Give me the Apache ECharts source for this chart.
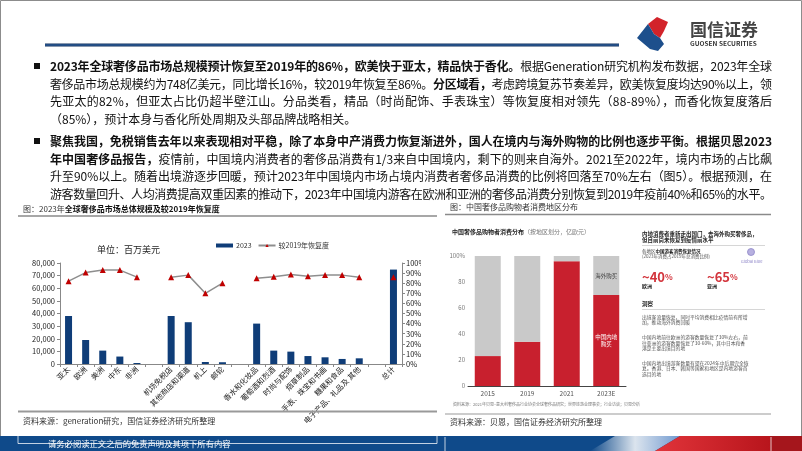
<!DOCTYPE html>
<html><head><meta charset="utf-8">
<script src="https://cdn.jsdelivr.net/npm/echarts@6/dist/echarts.min.js"></script>
<style>
html,body{margin:0;padding:0;background:#fff;}
#wrap{position:relative;width:802px;height:451px;overflow:hidden;}
#chart{position:absolute;left:0;top:0;width:802px;height:451px;}
.ln{position:absolute;left:50px;width:722px;height:16px;line-height:16px;font-size:12px;font-family:"Noto Sans CJK SC","Noto Sans",sans-serif;color:#111;white-space:nowrap;}
.ln b{font-weight:700;}
</style></head>
<body>
<div id="wrap">
<div id="chart"></div>
<div class="ln j" style="top:58px"><span><b>2023年全球奢侈品市场总规模预计恢复至2019年的86%，欧美快于亚太，精品快于香化。</b>根据Generation研究机构发布数据，2023年全球</span></div>
<div class="ln j" style="top:75.5px"><span>奢侈品市场总规模约为748亿美元，同比增长16%，较2019年恢复至86%。<b>分区域看，</b>考虑跨境复苏节奏差异，欧美恢复度均达90%以上，领</span></div>
<div class="ln j" style="top:93px"><span>先亚太的82%，但亚太占比仍超半壁江山。分品类看，精品（时尚配饰、手表珠宝）等恢复度相对领先（88-89%），而香化恢复度落后</span></div>
<div class="ln" style="top:110.5px"><span>（85%），预计本身与香化所处周期及头部品牌战略相关。</span></div>
<div class="ln j" style="top:133px"><span><b>聚焦我国，免税销售去年以来表现相对平稳，除了本身中产消费力恢复渐进外，国人在境内与海外购物的比例也逐步平衡。根据贝恩2023</b></span></div>
<div class="ln j" style="top:150.5px"><span><b>年中国奢侈品报告，</b>疫情前，中国境内消费者的奢侈品消费有1/3来自中国境内，剩下的则来自海外。2021至2022年，境内市场的占比飙</span></div>
<div class="ln j" style="top:168px"><span>升至90%以上。随着出境游逐步回暖，预计2023年中国境内市场占境内消费者奢侈品消费的比例将回落至70%左右（图5）。根据预测，在</span></div>
<div class="ln j" style="top:185.5px"><span>游客数量回升、人均消费提高双重因素的推动下，2023年中国境内游客在欧洲和亚洲的奢侈品消费分别恢复到2019年疫前40%和65%的水平。</span></div>
</div>
<script>
// ---------- data ----------
const categories = ['亚太','欧洲','美洲','中东','非洲','','机场免税店','其他商店和渠道','机上','邮轮',' ','香水和化妆品','葡萄酒和烈酒','时尚与配饰','烟草制品','手表、珠宝和书画','糖果和食品','电子产品、礼品及 其他','  ','总计'];
const market2023 = [38000,19000,10600,5900,800,null,38000,33100,1600,1400,null,32000,10600,9800,6300,5300,4000,4500,null,74800];
const recovery = [82,90.5,93,93,86,null,86,88,70,80,null,85,86.5,88.5,87,88,88,86,null,86];
const years = ['2015','2019','2021','2023E'];
const totals = [757,927,638,633];
const domesticShare = [23,34,96,70];
const overseasShare = [77,66,4,30];
const capLine = [100,100,100,100];

// justify paragraph lines
document.querySelectorAll('.ln.j').forEach(el=>{
  const sp = el.firstElementChild;
  const w = sp.getBoundingClientRect().width;
  const n = Array.from(sp.textContent).length;
  sp.style.letterSpacing = ((722 - w) / (n - 1)) + 'px';
});

const F = '"Noto Sans CJK SC","Noto Sans",sans-serif';
const chart = echarts.init(document.getElementById('chart'), null, {renderer:'canvas'});

function T(x,y,text,size,color,extra){
  return Object.assign({type:'text', x:x, y:y, z:50, style:Object.assign({text:text, font: (extra&&extra.bold?'bold ':'') + size+'px '+F, fill:color, textVerticalAlign:'middle'}, extra&&extra.style||{})}, extra&&extra.el||{});
}
const panelTxt = '#555';
const graphics = [
  {type:'rect', z:1, shape:{x:0.5,y:0.5,width:801,height:450}, style:{fill:'none', stroke:'#8c8c8c', lineWidth:1}},
  // header line
  {type:'rect', z:5, shape:{x:45,y:43.5,width:574,height:3}, style:{fill:new echarts.graphic.LinearGradient(0,0,0,1,[{offset:0,color:'#14325e'},{offset:0.5,color:'#2a5a97'},{offset:1,color:'#14325e'}])}},
  // logo
  {type:'polygon', z:5, shape:{points:[[648,24],[657,17],[668,22],[664,31],[660,38],[654,34],[651,29]]}, style:{fill:'#d2232a'}},
  {type:'polygon', z:5, shape:{points:[[637,38],[648,24],[651,29],[654,34],[660,38],[664,44],[658,51],[650,49]]}, style:{fill:'#1d4f8c'}},
  T(690,30,'国信证券',17,'#444',{bold:true}),
  T(690,44,'GUOSEN SECURITIES',6.5,'#333',{bold:true}),
  // bullets
  {type:'rect', z:5, shape:{x:34,y:63,width:6,height:6}, style:{fill:'#111'}},
  {type:'rect', z:5, shape:{x:34,y:138,width:6,height:6}, style:{fill:'#111'}},
  // left title
  {type:'text', x:23, y:209, z:50, style:{text:'{n|图：2023年}{b|全球奢侈品市场总体规模及较2019年恢复度}', textVerticalAlign:'middle', rich:{n:{font:'8px '+F, fill:'#333'}, b:{font:'bold 8px '+F, fill:'#111'}}}},
  {type:'line', z:5, shape:{x1:18,y1:216,x2:437,y2:216}, style:{stroke:'#8a8a8a', lineWidth:1.5}},
  T(97,250,'单位：百万美元',9,'#222'),
  // right title
  T(450,207,'图：中国奢侈品购物者消费地区分布',8,'#333'),
  {type:'line', z:5, shape:{x1:445,y1:214.5,x2:771,y2:214.5}, style:{stroke:'#8a8a8a', lineWidth:1.5}},
  // white edge of the embedded picture (clips the right-axis labels)
  {type:'rect', z:100, shape:{x:421,y:250,width:22,height:125}, style:{fill:'#fff'}},
  // right chart embedded title
  {type:'text', x:452, y:232, z:50, style:{text:'{b|中国奢侈品购物者消费分布}{n|（按地区划分，亿欧元）}', textVerticalAlign:'middle', rich:{b:{font:'bold 6px '+F, fill:'#222'}, n:{font:'6px '+F, fill:'#777'}}}},
  T(453,404,'资料来源：2021年贝恩–意大利奢侈品行业协会全球奢侈品研究；世界旅游业理事会；行业访谈；贝恩分析',4,'#777'),
  // right panel
  T(642,234,'内地消费者重新走出国门，去海外购买奢侈品，',5.5,'#222',{bold:true}),
  T(642,240,'但目前尚未恢复到疫情前水平',5.5,'#222',{bold:true}),
  {type:'line', z:5, shape:{x1:642,y1:245.5,x2:765,y2:245.5}, style:{stroke:'#ccc', lineWidth:0.8}},
  {type:'text', x:642, y:251, z:50, style:{text:'{n|各地区}{b|中国游客消费恢复情况}', textVerticalAlign:'middle', rich:{n:{font:'4.5px '+F, fill:'#444'}, b:{font:'bold 4.5px '+F, fill:'#222'}}}},
  T(642,256,'(2023年消费占2019年总消费比例)',4.5,'#555'),
  {type:'circle', z:5, shape:{cx:751,cy:252,r:3.5}, style:{fill:'#b7b0e0', stroke:'#8e86c8', lineWidth:0.8}},
  T(741,261,'Global Blue',4,'#8e86c8'),
  {type:'text', x:642, y:277, z:50, style:{text:'{a|~40}{b|%}', textVerticalAlign:'middle', rich:{a:{font:'bold 13px '+F, fill:'#d3343c'}, b:{font:'bold 8px '+F, fill:'#d3343c'}}}},
  {type:'text', x:707, y:277, z:50, style:{text:'{a|~65}{b|%}', textVerticalAlign:'middle', rich:{a:{font:'bold 13px '+F, fill:'#d3343c'}, b:{font:'bold 8px '+F, fill:'#d3343c'}}}},
  T(642,286,'欧洲',5,'#222',{bold:true}),
  T(707,286,'亚洲',5,'#222',{bold:true}),
  T(642,304,'洞察',5.5,'#222',{bold:true}),
  {type:'line', z:5, shape:{x1:642,y1:309.5,x2:765,y2:309.5}, style:{stroke:'#ccc', lineWidth:0.8}},
  T(642,317,'出境客流量恢复，同时平均消费相比疫情前有所增',4.8,panelTxt),
  T(642,322.5,'加，推动海外消费回暖',4.8,panelTxt),
  T(642,337.5,'中国内地前往欧洲的游客数量恢复了30%左右，前',4.8,panelTxt),
  T(642,343,'往亚洲的游客数量恢复了30-60%，其中日本和香',4.8,panelTxt),
  T(642,348.5,'港是主要出境目的地',4.8,panelTxt),
  T(642,363,'中国内地出境游客数量有望在2024年中后期完全恢',4.8,panelTxt),
  T(642,368.5,'复。香港、日本、韩国等国家和地区是内地游客首',4.8,panelTxt),
  T(642,374,'选目的地',4.8,panelTxt),
  // bottom source lines
  {type:'line', z:5, shape:{x1:18,y1:411.5,x2:437,y2:411.5}, style:{stroke:'#999', lineWidth:2}},
  T(23,421,'资料来源：generation研究，国信证券经济研究所整理',8,'#333'),
  {type:'line', z:5, shape:{x1:445,y1:414,x2:771,y2:414}, style:{stroke:'#bbb', lineWidth:1.5}},
  T(450,422,'资料来源：贝恩，国信证券经济研究所整理',8,'#333'),
  // footer
  {type:'rect', z:60, shape:{x:0,y:436,width:802,height:15}, style:{fill:'#0f4a8a'}},
  {type:'polygon', z:61, shape:{points:[[590,451],[615,436],[680,436],[655,451]]}, style:{fill:new echarts.graphic.LinearGradient(0,0,1,0,[{offset:0,color:'rgba(255,255,255,0)'},{offset:0.5,color:'rgba(255,255,255,0.85)'},{offset:1,color:'rgba(120,160,215,0.9)'}])}},
  {type:'polygon', z:62, shape:{points:[[655,451],[680,436],[770,436],[770,451]]}, style:{fill:new echarts.graphic.LinearGradient(0,0,1,0,[{offset:0,color:'#e1343a'},{offset:1,color:'#b8151c'}])}},
  {type:'rect', z:62, shape:{x:770,y:436,width:32,height:15}, style:{fill:'#a5161c'}},
  {type:'line', z:63, shape:{x1:18,y1:443.5,x2:437,y2:443.5}, style:{stroke:'rgba(255,255,255,0.75)', lineWidth:1}},
  {type:'line', z:63, shape:{x1:18,y1:436,x2:18,y2:443.5}, style:{stroke:'rgba(255,255,255,0.75)', lineWidth:1}},
  {type:'line', z:63, shape:{x1:437,y1:436,x2:437,y2:443.5}, style:{stroke:'rgba(255,255,255,0.75)', lineWidth:1}},
  {type:'line', z:63, shape:{x1:445,y1:437,x2:445,y2:451}, style:{stroke:'rgba(255,255,255,0.75)', lineWidth:1}},
  {type:'line', z:63, shape:{x1:771,y1:437,x2:771,y2:451}, style:{stroke:'rgba(255,255,255,0.75)', lineWidth:1}},
  Object.assign(T(48,444,'请务必阅读正文之后的免责声明及其项下所有内容',8.3,'#fff'),{z:70})
];

const option = {
  animation:false,
  textStyle:{fontFamily:F},
  legend:{
    left:211, top:237, itemWidth:17, itemHeight:4, itemGap:6,
    textStyle:{fontSize:7, color:'#333', fontFamily:F, padding:[0,0,0,-2]},
    data:[{name:'2023', icon:'rect'}, {name:'较2019年恢复度'}]
  },
  grid:[
    {left:60, top:263, width:342, height:101},
    {left:468, top:256, width:158, height:130}
  ],
  xAxis:[
    {type:'category', gridIndex:0, data:categories,
     axisLine:{lineStyle:{color:'#888'}}, axisTick:{show:true, length:3, lineStyle:{color:'#888'}},
     axisLabel:{rotate:45, interval:0, fontSize:7.5, color:'#222', margin:4}},
    {type:'category', gridIndex:1, data:years,
     axisLine:{lineStyle:{color:'#444', width:1}}, axisTick:{show:false},
     axisLabel:{fontSize:6.5, color:'#555', margin:4}}
  ],
  yAxis:[
    {type:'value', gridIndex:0, min:0, max:80000, interval:10000,
     axisLine:{show:true, lineStyle:{color:'#888'}}, axisTick:{show:true, length:3, lineStyle:{color:'#888'}},
     splitLine:{show:false}, axisLabel:{fontSize:7.5, color:'#222', margin:5}},
    {type:'value', gridIndex:0, position:'right', min:0, max:100, interval:10,
     axisLine:{show:true, lineStyle:{color:'#888'}}, axisTick:{show:true, length:3, lineStyle:{color:'#888'}},
     splitLine:{show:false}, axisLabel:{fontSize:7.5, color:'#222', margin:4, formatter:'{value}%'}},
    {type:'value', gridIndex:1, min:0, max:100, interval:20,
     axisLine:{show:false}, axisTick:{show:false}, splitLine:{show:false},
     axisLabel:{fontSize:6, color:'#777', margin:3, formatter:v=> v===100?'100%':String(v)}}
  ],
  series:[
    {name:'2023', type:'bar', xAxisIndex:0, yAxisIndex:0, data:market2023, barWidth:7,
     itemStyle:{color:'#0f3d78'}},
    {name:'较2019年恢复度', type:'line', xAxisIndex:0, yAxisIndex:1, data:recovery,
     connectNulls:false, symbol:'triangle', symbolSize:6,
     lineStyle:{color:'#8e8e8e', width:1.5}, itemStyle:{color:'#c00000'}},
    {name:'中国内地购买', type:'bar', xAxisIndex:1, yAxisIndex:2, stack:'s', barWidth:26,
     itemStyle:{color:'#c8202e'},
     data: domesticShare.map((v,i)=> i===3 ? {value:v, label:{show:true, position:'inside', formatter:'中国内地\n购买', color:'#fff', fontSize:5.5, lineHeight:7}} : v)},
    {name:'海外购买', type:'bar', xAxisIndex:1, yAxisIndex:2, stack:'s', barWidth:26,
     itemStyle:{color:'#c9c9c9'},
     data: overseasShare.map((v,i)=> i===3 ? {value:v, label:{show:true, position:'inside', formatter:'海外购买', color:'#444', fontSize:5.5}} : v)},
    {name:'总额', type:'line', xAxisIndex:1, yAxisIndex:2, data:capLine, symbol:'circle', symbolSize:0,
     lineStyle:{opacity:0}, itemStyle:{opacity:0},
     label:{show:true, position:'top', distance:3, fontSize:6, color:'#666', formatter:p=>String(totals[p.dataIndex])}}
  ],
  graphic: graphics
};
chart.setOption(option);
</script>
</body></html>
